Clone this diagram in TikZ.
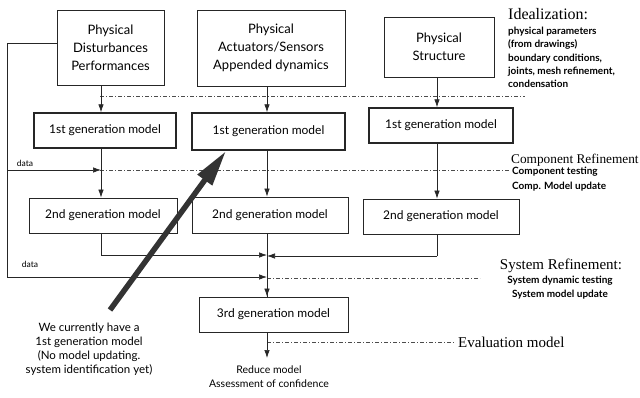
\documentclass[tikz,border=0pt]{standalone}
\usepackage{fontspec}
\setmainfont{Liberation Serif}
\newfontfamily\opt{Lato}
\usetikzlibrary{arrows.meta}
\begin{document}
\begin{tikzpicture}[x=1pt,y=-1pt,
  box/.style={draw=black!85,line width=0.8pt,inner sep=0pt,font=\opt\fontsize{12}{18}\selectfont,align=center},
  topbox/.style={box,font=\opt\fontsize{13}{18}\selectfont},
  genbox/.style={box,line width=1.5pt},
  arr/.style={draw=black!85,line width=0.7pt,-{Latex[length=8pt,width=5.5pt]}},
  ln/.style={draw=black!85,line width=0.7pt},
  dd/.style={draw=black!70,line width=0.6pt,dash pattern=on 4pt off 2pt on 1pt off 2pt},
  small/.style={font=\opt\bfseries\fontsize{10}{13.3}\selectfont,align=left,inner sep=0pt},
  big/.style={font=\fontsize{14}{16}\selectfont,inner sep=0pt}
]
\useasboundingbox (0,0) rectangle (640,397);
% top boxes
\node[topbox,minimum width=107pt,minimum height=75pt] (pd) at (110.5,47.5) {Physical\\Disturbances\\Performances};
\node[topbox,minimum width=148pt,minimum height=76pt] (pa) at (271,48) {Physical\\Actuators/Sensors\\Appended dynamics};
\node[topbox,minimum width=110pt,minimum height=60pt] (ps) at (439,47) {Physical\\Structure};
% first generation
\node[genbox,minimum width=142pt,minimum height=35pt] (g1a) at (105,130.5) {1st generation model};
\node[genbox,minimum width=153pt,minimum height=37pt] (g1b) at (268.5,131.5) {1st generation model};
\node[genbox,minimum width=144pt,minimum height=35pt] (g1c) at (441,125.5) {1st generation model};
% second generation
\node[box,minimum width=148pt,minimum height=35pt] (g2a) at (103,215.5) {2nd generation model};
\node[box,minimum width=156pt,minimum height=36pt] (g2b) at (270,215) {2nd generation model};
\node[box,minimum width=156pt,minimum height=35pt] (g2c) at (441,216.5) {2nd generation model};
% third
\node[box,minimum width=149pt,minimum height=35pt] (g3) at (273.5,314.5) {3rd generation model};
% column coordinates
\coordinate (c1) at (101,0);
\coordinate (c2) at (267,0);
\coordinate (c3) at (437,0);
% dash-dot level lines
\coordinate (d1s) at (100,96); \coordinate (d1e) at (525,96);
\coordinate (d2s) at (100,170); \coordinate (d2e) at (510,170);
\coordinate (d3s) at (267,278); \coordinate (d3e) at (480,278);
\coordinate (d4s) at (267,342); \coordinate (d4e) at (455,342);
\draw[dd] (d1s) -- (d1e);
\draw[dd] (d2s) -- (d2e);
\draw[dd] (d3s) -- (d3e);
\draw[dd] (d4s) -- (d4e);
% vertical arrows
\draw[arr] (c1 |- pd.south) -- (c1 |- g1a.north);
\draw[arr] (c2 |- pa.south) -- (c2 |- g1b.north);
\draw[arr] (c3 |- ps.south) -- (c3 |- g1c.north);
\draw[arr] (c1 |- g1a.south) -- (c1 |- g2a.north);
\draw[arr] (c2 |- g1b.south) -- (c2 |- g2b.north);
\draw[arr] (c3 |- g1c.south) -- (c3 |- g2c.north);
\draw[ln] (c2 |- g2b.south) -- (c2 |- g3.north);
\draw[arr] (c2 |- 0,270) -- (c2 |- g3.north);
% merge lines
\coordinate (m1) at (101,255);
\coordinate (m3) at (437,256);
\draw[ln] (c1 |- g2a.south) -- (m1);
\draw[arr] (m1) -- (m1 -| c2);
\draw[ln] (c3 |- g2c.south) -- (m3);
\draw[arr] (m3) -- (m3 -| c2);
% data feedback
\coordinate (f0) at (7,43);
\coordinate (f1) at (7,277);
\coordinate (fb) at (7,170);
\draw[ln] (f0 -| pd.west) -- (f0) -- (f1);
\draw[arr] (f1) -- (f1 -| c2);
\draw[arr] (fb) -- (fb -| c1);
\node[font=\opt\fontsize{8.5}{10}\selectfont,inner sep=0pt] (data1) at (25,163) {data};
\node[font=\opt\fontsize{8.5}{10}\selectfont,inner sep=0pt] (data2) at (30,264) {data};
% output
\coordinate (out) at (267,358);
\draw[arr] (c2 |- g3.south) -- (out);
\node[font=\opt\fontsize{10.5}{13.5}\selectfont,align=center,inner sep=0pt,anchor=north] (red) at (269,366) {Reduce model\\Assessment of confidence};
% side labels
\node[big,anchor=west,font=\fontsize{16}{18}\selectfont] (ideal) at (508,14) {Idealization:};
\node[small,anchor=north west] (idealt) at (508,27) {physical parameters\\(from drawings)\\boundary conditions,\\joints, mesh refinement,\\condensation};
\node[big,anchor=west,font=\fontsize{13.3}{16}\selectfont] (comp) at (511,160) {Component Refinement};
\node[small,anchor=north west,font=\opt\bfseries\fontsize{10}{14.5}\selectfont] (compt) at (512,167) {Component testing\\Comp. Model update};
\node[big,font=\fontsize{15}{18}\selectfont] (sys) at (561,266) {System Refinement:};
\node[small,align=center,anchor=north,font=\opt\bfseries\fontsize{10}{13.5}\selectfont] (syst) at (560,276) {System dynamic testing\\System model update};
\node[big,anchor=west,font=\fontsize{15}{18}\selectfont] (eval) at (458,342) {Evaluation model};
% note with big arrow
\node[font=\opt\fontsize{11.5}{14}\selectfont,align=center,inner sep=0pt,anchor=north] (note) at (89,323) {We currently have a\\1st generation model\\(No model updating.\\system identification yet)};
\coordinate (bt) at (110,310);
\coordinate (bh) at (226,151);
\draw[black!80,line width=5.5pt,-{Triangle[length=36pt,width=17pt]}] (bt) -- (bh);
\end{tikzpicture}
\end{document}
